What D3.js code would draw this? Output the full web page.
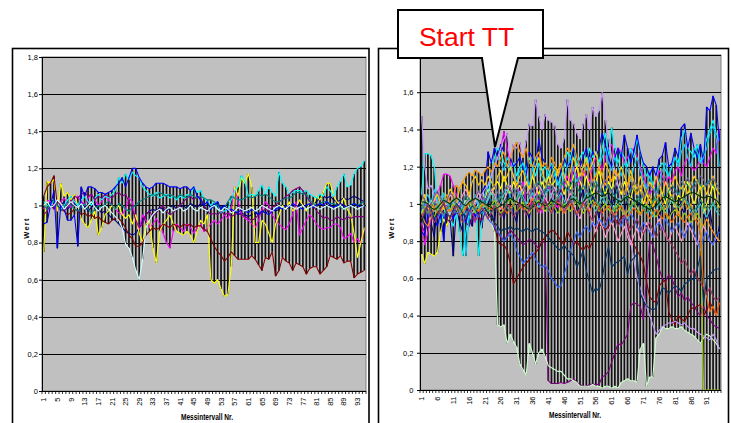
<!DOCTYPE html>
<html><head><meta charset="utf-8">
<script src="https://cdn.jsdelivr.net/npm/d3@7"></script>
<style>body{margin:0;background:#fff}svg{display:block}text{font-family:"Liberation Sans",Arial,sans-serif}</style>
</head><body><svg id="c" width="731" height="423"></svg>
<script>
const categories = [1,2,3,4,5,6,7,8,9,10,11,12,13,14,15,16,17,18,19,20,21,22,23,24,25,26,27,28,29,30,31,32,33,34,35,36,37,38,39,40,41,42,43,44,45,46,47,48,49,50,51,52,53,54,55,56,57,58,59,60,61,62,63,64,65,66,67,68,69,70,71,72,73,74,75,76,77,78,79,80,81,82,83,84,85,86,87,88,89,90,91,92,93,94,95];
const leftTickLabels = [1,5,9,13,17,21,25,29,33,37,41,45,49,53,57,61,65,69,73,77,81,85,89,93];
const rightTickLabels = [1,6,11,16,21,26,31,36,41,46,51,56,61,66,71,76,81,86,91];
const yTicks = [0,0.2,0.4,0.6,0.8,1.0,1.2,1.4,1.6,1.8];
const yTickLabels = ["0","0,2","0,4","0,6","0,8","1","1,2","1,4","1,6","1,8"];

// ---- left panel series ----
const L_navy = [1.00,0.98,1.02,1.03,0.99,1.00,1.02,0.98,1.00,1.01, 0.99,1.02,1.00,0.97,0.99,1.01,0.98,0.96,0.97,0.95, 0.93,0.92,0.90,0.88,0.86,0.85,0.84,0.85,0.88,0.92, 0.95,0.97,0.98,0.97,0.99,0.98,0.97,0.99,1.00,0.98, 0.99,1.00,0.98,1.01,1.00,0.99,1.01,1.00,0.97,0.99, 1.01,1.00,0.99,1.00,0.98,0.96,0.97,0.95,0.96,0.95, 0.94,0.95,0.96,0.95,0.97,0.96,0.97,0.98,0.97,0.98, 0.99,0.98,0.99,1.00,0.99,1.01,1.00,0.99,1.00,1.01, 1.02,1.04,1.05,1.04,1.05,1.03,1.02,1.03,1.04,1.03, 1.04,1.05,1.04,1.03,1.02];
const L_magenta = [0.98,1.03,1.02,1.00,0.97,1.02,1.04,1.01,0.99,1.03, 1.05,1.02,1.00,1.04,1.06,1.03,1.00,1.02,1.05,1.03, 1.00,0.98,0.96,0.95,0.98,1.04,1.02,0.92,0.87,0.95, 0.92,0.88,0.90,0.93,0.90,0.85,0.80,0.77,0.86,0.90, 0.88,0.86,0.90,0.88,0.85,0.88,0.90,0.86,0.88,0.90, 0.92,0.90,0.92,0.95,0.93,0.98,1.10,1.02,0.95,0.93, 0.92,0.90,0.88,0.92,0.98,1.02,1.00,0.95,0.92,0.90, 0.88,0.87,0.90,0.95,1.02,0.84,0.88,0.92,0.95,0.93, 0.90,0.88,0.87,0.88,0.88,0.90,0.90,0.88,0.82,0.83, 0.85,0.80,0.82,0.80,0.87];
const L_yellow = [0.75,1.13,1.12,1.14,0.97,1.12,1.05,1.07,1.03,1.06, 1.00,0.93,0.90,0.88,0.92,0.97,0.84,0.88,0.95,0.97, 1.00,0.98,1.00,0.95,0.93,0.95,0.90,0.95,0.85,0.80, 0.90,0.92,0.77,0.69,0.86,0.90,0.92,0.95,0.90,0.86, 0.85,0.84,0.86,0.84,0.80,0.86,0.92,0.90,0.95,0.60, 0.58,0.60,0.55,0.51,0.52,0.67,1.10,1.05,1.15,1.12, 1.17,1.10,0.80,0.80,0.92,0.90,0.85,0.80,0.90,0.95, 1.00,0.98,1.02,0.97,0.99,1.03,1.00,0.97,1.02,1.00, 1.05,1.03,1.07,1.12,1.12,1.05,1.02,1.00,1.04,0.98, 0.95,0.85,0.72,0.80,0.88];
const L_cyan = [1.02,1.00,0.99,1.03,1.01,0.98,1.00,1.03,1.05,1.02, 1.00,1.03,1.05,1.02,1.00,1.04,1.06,1.03,1.05,1.04, 1.06,1.08,1.15,1.12,1.17,1.14,1.18,1.16,1.15,1.10, 1.08,1.06,1.05,1.07,1.04,1.05,1.06,1.04,1.05,1.03, 1.05,1.04,1.06,1.05,1.10,1.07,1.08,1.04,1.02,1.00, 1.02,0.98,0.96,0.97,0.98,1.03,1.08,1.10,1.16,1.13, 1.05,1.06,1.05,1.08,1.11,1.06,1.10,1.07,1.05,1.18, 1.12,1.10,1.06,1.07,1.08,1.08,1.07,1.08,1.06,1.05, 1.04,1.06,1.05,1.10,1.08,1.05,1.10,1.13,1.17,1.10, 1.11,1.17,1.20,1.21,1.24];
const L_purple = [0.95,0.97,1.00,0.98,1.02,1.00,0.97,0.99,1.02,1.05, 1.04,1.06,1.07,1.05,1.06,1.03,1.05,1.04,1.06,1.05, 1.04,1.06,1.07,1.05,1.06,1.02,0.98,0.92,0.88,0.90, 0.95,0.97,0.94,0.96,0.98,1.00,0.97,0.95,0.96,0.98, 1.00,1.02,1.04,1.05,1.03,1.05,1.04,1.00,0.97,0.95, 0.96,0.95,0.97,0.95,0.96,0.94,0.95,0.96,0.95,0.94, 0.93,0.92,0.93,0.95,0.97,0.98,0.97,0.99,1.00,1.02, 1.03,1.05,1.06,1.08,1.09,1.10,1.08,1.05,1.02,1.00, 0.97,0.95,0.93,0.94,0.92,0.92,0.94,0.93,0.92,0.94, 0.93,0.94,0.94,0.94,0.94];
const L_maroon = [1.05,1.10,1.12,1.16,1.00,0.98,0.97,0.95,0.96,0.98, 0.97,0.95,0.96,0.94,0.95,0.93,0.94,0.92,0.91,0.90, 0.92,0.93,0.93,0.91,0.88,0.84,0.82,0.78,0.78,0.80, 0.84,0.86,0.88,0.87,0.88,0.90,0.89,0.88,0.90,0.89, 0.88,0.90,0.89,0.90,0.88,0.89,0.89,0.87,0.86,0.82, 0.78,0.75,0.73,0.70,0.72,0.75,0.73,0.71,0.71,0.71, 0.71,0.73,0.71,0.68,0.65,0.72,0.71,0.75,0.62,0.65, 0.72,0.70,0.69,0.65,0.69,0.68,0.67,0.63,0.66,0.67, 0.67,0.63,0.65,0.67,0.73,0.72,0.71,0.73,0.69,0.70, 0.70,0.61,0.63,0.64,0.65];
const L_teal = [1.00,0.98,1.01,1.03,1.00,0.97,0.99,1.02,1.00,0.98, 0.97,0.99,1.01,0.98,0.96,0.98,1.00,0.99,1.01,1.02, 1.00,0.98,1.01,1.00,0.98,0.97,0.99,1.00,1.02,1.03, 1.04,1.05,1.06,1.05,1.07,1.06,1.05,1.06,1.05,1.04, 1.06,1.05,1.04,1.06,1.05,1.04,1.05,1.04,1.03,1.03, 1.02,1.00,0.98,0.99,1.02,1.05,1.04,1.03,1.03,1.04, 1.05,1.04,1.05,1.06,1.05,1.06,1.05,1.03,1.02,1.02, 1.03,1.04,1.04,1.05,1.07,1.07,1.06,1.06,1.03,1.01, 1.00,1.01,1.02,1.02,1.01,1.01,1.00,0.99,0.98,0.99, 1.00,1.01,1.00,1.01,1.02];
const L_blue = [0.90,0.91,1.00,1.08,0.77,1.00,0.98,0.92,0.92,0.95, 0.78,1.10,1.05,1.10,1.10,1.09,1.07,1.07,1.06,1.07, 1.08,1.10,1.12,1.15,1.10,1.15,1.20,1.20,1.15,1.12, 1.10,1.09,1.10,1.12,1.12,1.12,1.11,1.10,1.10,1.10, 1.09,1.10,1.10,1.08,1.10,1.05,1.03,1.00,1.02,0.98, 1.00,1.02,0.98,1.00,0.97,0.98,0.97,0.96,0.98,0.97, 0.96,0.98,0.97,0.95,0.97,0.96,0.95,0.97,0.98,0.99, 0.98,1.00,0.99,1.01,1.00,0.99,0.98,1.00,1.01,0.99, 1.00,1.01,1.00,1.02,1.00,0.99,1.00,1.01,1.00,0.99, 1.00,1.01,1.00,0.99,1.00];
const L_lightcyan = [1.00,1.02,0.99,1.00,1.03,1.01,0.98,1.00,1.02,1.00, 0.99,1.01,0.98,1.00,1.02,0.99,0.97,0.99,1.00,0.98, 0.96,0.94,0.92,0.88,0.79,0.77,0.72,0.65,0.60,0.71, 0.88,0.92,0.95,0.97,0.98,0.96,0.98,0.99,0.97,0.98, 0.99,0.97,0.98,1.00,0.98,0.97,0.99,0.98,0.97,0.99, 1.00,0.98,0.97,0.99,0.98,0.96,0.97,0.99,0.98,0.97, 0.98,0.99,0.97,0.98,1.00,0.99,0.98,0.97,0.99,1.00, 0.99,0.98,1.00,0.99,0.98,0.99,1.00,0.98,0.99,1.00, 0.99,0.98,0.99,1.00,0.99,0.98,0.99,1.00,0.98,0.99, 1.00,0.99,0.98,0.99,1.00];

// ---- right panel series ----
const R_navy = [0.95,0.88,1.05,0.90,0.82,1.00,0.95,0.85,1.02,0.92, 0.72,0.98,0.90,0.85,1.00,0.93,0.88,1.02,0.95,0.87, 1.00,1.08,0.95,0.90,1.05,0.98,0.92,1.00,1.10,0.95, 0.90,1.02,1.08,0.97,0.92,1.05,1.00,0.95,1.08,1.02, 0.98,1.05,0.95,1.00,1.10,1.03,0.97,1.05,1.00,0.93, 1.02,1.08,0.98,0.95,1.05,1.00,0.92,1.03,1.10,1.05, 0.98,1.05,1.12,1.00,0.95,1.05,1.10,1.02,0.97,1.03, 1.08,1.00,0.95,1.02,0.98,0.92,1.00,1.05,0.97,0.93, 1.00,1.06,0.98,0.95,1.02,0.97,0.92,0.98,1.03,0.95, 0.90,0.97,0.85,0.80,0.88];
const R_magenta = [0.90,0.78,0.85,0.92,1.00,1.05,1.10,1.16,1.16,1.15, 1.10,1.05,1.00,0.95,0.98,1.02,0.95,0.90,0.98,1.00, 1.05,1.10,1.15,1.20,1.25,1.30,1.39,1.30,1.22,1.15, 1.10,1.05,1.12,1.00,0.95,1.05,1.10,1.00,0.95,1.05, 1.10,1.05,1.00,0.98,1.05,1.10,1.15,1.12,1.20,1.15, 1.10,1.18,1.15,1.12,1.20,1.25,1.22,1.18,1.25,1.30, 1.32,1.25,1.30,1.28,1.22,1.25,1.28,1.30,1.25,1.20, 1.15,1.10,1.05,1.08,1.12,1.18,1.15,1.10,1.15,1.12, 1.18,1.20,1.15,1.22,1.25,1.20,1.18,1.20,1.25,1.22, 1.20,1.25,1.30,1.27,1.40];
const R_yellow = [0.73,0.68,0.74,0.73,0.72,0.74,0.85,0.92,0.88,0.95, 1.00,0.97,1.02,0.95,1.00,1.05,0.98,1.02,1.00,1.05, 1.03,1.08,1.05,1.10,1.12,1.08,1.15,1.10,1.05,1.12, 1.08,1.10,1.05,1.12,1.08,1.15,1.10,1.05,1.12,1.08, 1.15,1.10,1.12,1.18,1.10,1.05,1.12,1.08,1.15,1.20, 1.12,1.08,1.15,1.10,1.05,1.12,1.18,1.10,1.05,1.12, 1.08,1.15,1.10,1.05,1.12,1.08,1.02,1.10,1.05,1.08, 1.00,1.05,1.02,0.98,1.05,1.10,1.05,1.00,1.08,1.02, 0.98,1.05,1.02,1.08,1.12,1.05,1.00,1.05,1.10,0.95, 1.00,1.05,1.10,1.02,0.98];
const R_cyan = [1.05,1.27,1.27,1.26,1.20,1.00,0.90,0.95,1.00,0.92, 0.88,0.95,0.85,0.72,0.85,0.95,1.00,0.98,0.72,0.90, 0.98,1.05,1.15,1.25,1.30,1.28,1.22,1.20,1.18,1.22, 1.15,1.20,1.22,1.18,1.25,1.20,1.15,1.22,1.18,1.20, 1.15,1.20,1.18,1.10,1.15,1.20,1.28,1.25,1.32,1.20, 1.25,1.28,1.22,1.30,1.25,1.28,1.22,1.30,1.38,1.25, 1.41,1.30,1.22,1.28,1.25,1.20,1.30,1.25,1.35,1.28, 1.20,1.15,1.18,1.10,1.15,1.20,1.22,1.18,1.15,1.20, 1.25,1.22,1.35,1.40,1.30,1.28,1.25,1.32,1.22,1.28, 1.35,1.40,1.45,1.38,1.34];
const R_purple = [0.88,0.85,0.92,0.95,0.90,0.93,0.97,0.95,0.92,0.90, 0.93,0.95,0.97,0.92,0.90,0.88,0.92,0.95,0.93,0.91, 0.95,0.92,0.90,0.87,0.85,0.82,0.80,0.83,0.86,0.84, 0.82,0.80,0.78,0.79,0.81,0.80,0.78,0.76,0.80,0.79, 0.05,0.035,0.035,0.035,0.04,0.035,0.04,0.05,0.06,0.04, 0.03,0.02,0.02,0.03,0.03,0.03,0.03,0.07,0.08,0.10, 0.15,0.20,0.25,0.24,0.27,0.30,0.45,0.47,0.46,0.45, 0.38,0.60,0.80,0.78,0.72,0.65,0.60,0.58,0.62,0.60, 0.55,0.50,0.52,0.48,0.50,0.47,0.45,0.42,0.40,0.45, 0.40,0.38,0.35,0.34,0.33];
const R_maroon = [1.00,0.95,0.98,1.02,0.97,0.95,0.99,1.01,0.97,0.96, 0.99,1.02,0.98,0.95,0.97,1.00,0.98,0.95,0.97,1.00, 0.98,0.95,0.93,0.90,0.80,0.78,0.78,0.75,0.68,0.57, 0.60,0.63,0.66,0.68,0.70,0.72,0.74,0.76,0.80,0.82, 0.84,0.86,0.85,0.83,0.80,0.78,0.85,0.82,0.78,0.80, 0.77,0.75,0.78,0.76,0.80,0.85,0.89,0.88,0.86,0.88, 0.89,0.92,0.90,0.93,0.94,0.88,0.82,0.78,0.75,0.72, 0.68,0.58,0.50,0.48,0.47,0.56,0.58,0.59,0.42,0.38, 0.35,0.40,0.38,0.37,0.40,0.44,0.44,0.45,0.46,0.40, 0.43,0.47,0.44,0.40,0.47];
const R_teal = [1.02,0.98,1.00,1.03,0.99,0.96,1.00,1.02,0.98,1.00, 1.03,1.00,0.97,1.01,1.04,1.00,0.97,1.00,1.02,0.99, 1.01,1.04,1.02,0.99,1.03,1.06,1.04,1.01,1.05,1.08, 1.06,1.03,1.07,1.10,1.08,1.05,1.09,1.12,1.08,1.06, 1.10,1.08,1.05,1.08,1.12,1.10,1.07,1.10,1.13,1.09, 1.06,1.10,1.08,1.05,1.09,1.12,1.08,1.05,1.08,1.10, 1.07,1.04,1.08,1.10,1.06,1.03,1.07,1.09,1.05,1.02, 1.06,1.08,1.04,1.01,1.05,1.08,1.06,1.03,1.07,1.10, 1.08,1.05,1.09,1.12,1.10,1.07,1.11,1.13,1.10,1.08, 1.11,1.13,1.10,1.08,1.06];
const R_blue = [0.85,0.83,0.95,1.00,0.92,0.88,0.95,0.80,1.00,0.97, 0.92,0.98,1.02,0.95,0.90,0.97,1.00,0.93,0.98,1.05, 1.10,1.28,1.22,1.30,1.25,1.32,1.28,1.20,1.25,1.20, 1.22,1.25,1.20,1.15,1.28,1.25,1.20,1.35,1.25,1.22, 1.18,1.20,1.15,1.12,1.18,1.25,1.20,1.22,1.30,1.25, 1.20,1.25,1.30,1.22,1.28,1.25,1.30,1.38,1.32,1.25, 1.20,1.25,1.30,1.25,1.37,1.30,1.22,1.28,1.37,1.28, 1.22,1.20,1.15,1.20,1.15,1.24,1.26,1.33,1.20,1.22, 1.30,1.25,1.41,1.43,1.30,1.38,1.30,1.25,1.32,1.22, 1.52,1.50,1.58,1.53,1.34];
const R_sky = [0.95,1.05,1.00,0.98,1.08,1.02,0.97,1.05,1.00,0.95, 1.02,0.98,0.95,1.00,0.72,0.92,1.00,1.05,0.98,0.95, 1.05,1.10,1.15,1.20,1.25,1.22,1.18,1.25,1.20,1.15, 1.12,1.18,1.22,1.15,1.10,1.18,1.25,1.20,1.15,1.12, 1.18,1.22,1.15,1.12,1.08,1.15,1.20,1.25,1.18,1.12, 1.15,1.20,1.18,1.25,1.22,1.15,1.20,1.25,1.30,1.22, 1.18,1.25,1.20,1.15,1.22,1.18,1.12,1.20,1.25,1.18, 1.12,1.08,1.15,1.10,1.05,1.12,1.18,1.22,1.15,1.20, 1.25,1.20,1.28,1.32,1.25,1.20,1.30,1.28,1.22,1.25, 1.30,1.38,1.42,1.35,1.20];
const R_lightgreen = [0.95,1.00,0.98,1.02,0.97,0.95,0.99,1.01,0.97,0.94, 0.98,1.00,0.96,0.99,1.02,0.98,0.95,0.97,1.00,0.98, 0.96,0.93,0.90,0.85,0.35,0.34,0.35,0.25,0.30,0.26, 0.23,0.14,0.11,0.08,0.25,0.20,0.14,0.20,0.22,0.18, 0.13,0.12,0.11,0.10,0.10,0.08,0.06,0.06,0.05,0.04, 0.02,0.02,0.02,0.02,0.03,0.02,0.02,0.01,0.02,0.02, 0.01,0.02,0.01,0.04,0.05,0.06,0.05,0.05,0.04,0.22, 0.25,0.02,0.07,0.07,0.28,0.30,0.34,0.33,0.33,0.34, 0.33,0.33,0.34,0.32,0.31,0.30,0.29,0.27,0.25,0.28, 0.30,0.29,0.27,0.25,0.22];
const R_lavender = [1.47,1.20,1.08,1.10,1.05,1.00,0.98,1.02,0.97,0.95, 1.00,1.03,0.98,0.95,1.00,1.02,0.97,1.00,1.03,1.05, 1.08,1.10,1.15,1.20,1.25,1.30,1.35,1.38,1.25,1.32, 1.30,1.33,1.25,1.34,1.43,1.42,1.56,1.47,1.40,1.48, 1.45,1.44,1.42,1.32,1.30,1.35,1.56,1.45,1.43,1.38, 1.35,1.43,1.48,1.40,1.52,1.47,1.50,1.60,1.45,1.35, 1.25,1.18,1.10,1.00,0.95,0.85,0.80,0.70,0.60,0.55, 0.50,0.45,0.40,0.35,0.30,0.32,0.34,0.35,0.36,0.36, 0.37,0.36,0.35,0.36,0.34,0.33,0.33,0.31,0.30,0.29, 0.28,0.27,0.30,0.27,0.22];
const R_pink = [1.00,1.05,0.98,0.95,1.02,1.08,1.03,0.98,1.00,1.05, 1.02,0.97,1.00,1.05,1.08,1.03,0.98,1.02,1.06,1.02, 0.98,1.03,1.08,1.05,1.00,0.97,1.02,1.06,1.10,1.05, 1.00,1.04,1.08,1.12,1.06,1.02,1.05,1.10,1.07,1.03, 1.00,1.05,1.09,1.04,1.00,0.96,1.02,1.06,1.00,0.95, 0.92,0.98,1.03,0.97,0.90,0.85,0.92,0.88,0.82,0.86, 0.90,0.86,0.80,0.84,0.88,0.82,0.78,0.83,0.87,0.80, 0.85,0.90,0.86,0.82,0.88,0.92,0.87,0.83,0.80,0.85, 0.88,0.84,0.80,0.85,0.90,0.86,0.82,0.78,0.84,0.88, 0.85,0.80,0.78,0.82,0.80];
const R_blue2 = [0.97,1.00,0.95,0.92,0.97,1.00,0.96,0.93,0.98,1.02, 0.98,0.95,0.97,1.00,0.96,0.94,0.98,0.95,0.93,0.97, 0.95,0.92,0.90,0.88,0.85,0.83,0.80,0.82,0.84,0.81, 0.75,0.72,0.68,0.70,0.72,0.74,0.70,0.68,0.66,0.67, 0.64,0.60,0.58,0.55,0.56,0.62,0.68,0.75,0.80,0.85, 0.82,0.86,0.88,0.85,0.90,0.88,0.92,0.90,0.87,0.93, 0.90,0.95,0.92,0.88,0.93,0.90,0.95,0.92,0.88,0.85, 0.90,0.87,0.85,0.82,0.88,0.90,0.86,0.92,0.89,0.85, 0.88,0.90,0.85,0.82,0.87,0.90,0.85,0.80,0.75,0.82, 0.85,0.80,0.78,0.83,0.85];
const R_turq = [0.98,1.02,1.05,1.00,0.96,0.99,1.03,1.06,1.01,0.97, 0.95,0.99,1.03,0.98,0.94,0.97,1.01,1.04,1.00,0.96, 0.99,1.02,1.06,1.03,0.98,1.01,1.05,1.08,1.04,1.00, 1.03,1.07,1.04,1.00,1.03,1.06,1.02,0.98,1.01,1.05, 1.08,1.04,1.00,1.03,1.06,1.02,0.97,1.00,1.04,1.01, 0.98,1.02,1.06,1.03,0.99,0.96,1.00,1.04,1.01,0.97, 0.95,0.99,1.03,1.00,0.96,0.92,0.97,1.01,0.98,0.94, 0.97,1.00,0.96,0.93,0.97,1.01,0.98,0.95,0.99,1.02, 0.99,0.95,0.98,1.02,1.00,0.96,0.93,0.97,1.00,0.96, 0.93,0.97,1.00,0.96,0.94];
const R_yellowgreen = [0.95,0.98,1.00,0.96,0.93,0.97,1.00,0.98,0.95,0.97, 1.00,0.97,0.94,0.96,0.99,1.01,0.98,0.95,0.97,1.00, 0.98,0.96,0.99,1.02,0.98,0.95,0.97,1.00,1.03,0.99, 0.96,0.98,1.01,0.97,0.95,0.98,1.00,1.02,0.98,0.96, 0.99,1.01,0.98,0.95,0.97,1.00,0.98,0.96,0.99,1.02, 0.98,0.95,0.97,1.00,1.02,0.99,0.96,0.98,1.00,0.97, 0.95,0.98,1.00,0.97,0.94,0.96,0.99,1.01,0.98,0.95, 0.97,1.00,0.98,0.95,0.93,0.96,0.98,0.95,0.92,0.95, 0.97,0.94,0.92,0.95,0.93,0.90,0.92,0.95,0.92,0.00, 0.00,0.00,0.00,0.00,0.00];
const R_gold = [1.00,1.05,0.98,0.95,1.02,1.05,1.00,0.97,1.03,1.08, 1.05,1.00,1.08,1.12,1.10,1.05,1.12,1.15,1.10,1.13, 1.10,1.15,1.12,1.08,1.15,1.18,1.12,1.15,1.20,1.15, 1.10,1.15,1.18,1.12,1.08,1.15,1.20,1.25,1.18,1.12, 1.10,1.15,1.20,1.18,1.22,1.15,1.10,1.18,1.25,1.20, 1.15,1.20,1.25,1.18,1.22,1.28,1.20,1.15,1.22,1.18, 1.12,1.18,1.15,1.20,1.15,1.10,1.18,1.12,1.08,1.15, 1.10,1.05,1.12,1.08,1.15,1.10,1.05,1.12,1.08,1.10, 1.15,1.10,1.08,1.12,1.05,1.10,1.15,1.12,1.08,1.10, 1.05,1.10,1.15,1.08,1.05];
const R_orange = [0.95,0.90,0.88,0.93,0.98,1.00,0.95,1.02,1.05,1.00, 1.05,1.10,1.08,1.12,1.15,1.17,1.15,1.18,1.17,1.15, 1.18,1.20,1.17,1.22,1.20,1.25,1.28,1.20,1.25,1.30, 1.33,1.28,1.25,1.30,1.22,1.20,1.25,1.28,1.20,1.22, 1.18,1.25,1.22,1.15,1.20,1.25,1.30,1.28,1.32,1.25, 1.20,1.15,1.22,1.18,1.12,1.15,1.20,1.15,1.10,1.15, 1.12,1.18,1.15,1.10,1.05,1.10,1.15,1.08,1.05,1.10, 1.05,1.00,1.05,0.98,1.02,1.05,1.00,0.97,1.02,1.05, 1.00,0.95,0.98,1.02,0.97,1.00,0.95,0.92,0.90,0.88, 0.92,0.88,0.85,0.82,0.80];
const R_orangered = [1.00,0.97,0.95,1.00,0.98,0.95,0.97,1.00,0.98,0.96, 0.98,1.00,0.97,0.95,0.98,1.00,1.02,0.98,0.96,0.99, 1.00,0.98,0.97,0.99,1.01,0.98,0.97,0.95,0.98,1.00, 1.02,0.99,0.97,0.98,1.00,1.03,0.99,0.96,0.98,1.00, 0.98,0.96,0.99,1.01,0.97,0.95,0.98,1.00,0.97,0.95, 0.97,1.00,0.98,0.96,0.99,1.01,0.98,0.95,0.97,0.99, 0.96,0.94,0.97,0.99,0.96,0.93,0.95,0.98,0.96,0.94, 0.97,0.95,0.92,0.95,0.97,0.94,0.92,0.95,0.93,0.90, 0.93,0.95,0.92,0.90,0.93,0.95,0.92,0.90,0.85,0.55, 0.50,0.42,0.45,0.40,0.47];
const R_slate = [1.05,1.02,0.98,1.00,1.04,1.07,1.03,1.00,1.02,1.06, 1.04,1.00,0.98,1.02,1.05,1.03,1.00,1.04,1.07,1.05, 1.02,1.05,1.08,1.10,1.06,1.03,1.07,1.10,1.08,1.05, 1.08,1.12,1.10,1.06,1.04,1.08,1.11,1.09,1.05,1.08, 1.12,1.10,1.07,1.05,1.09,1.13,1.10,1.06,1.08,1.11, 1.14,1.10,1.06,1.09,1.12,1.08,1.05,1.10,1.13,1.09, 1.06,1.10,1.14,1.11,1.07,1.04,1.08,1.12,1.10,1.06, 1.03,1.07,1.10,1.08,1.05,1.09,1.12,1.15,1.10,1.07, 1.05,1.09,1.12,1.10,1.14,1.11,1.08,1.12,1.15,1.13, 1.10,1.12,1.14,1.11,1.08];
const R_darknavy = [0.90,0.95,1.00,0.97,0.92,0.95,0.98,1.00,0.95,0.93, 0.97,1.00,0.98,0.95,0.92,0.96,0.99,0.97,0.94,0.96, 0.98,0.95,0.93,0.90,0.88,0.85,0.87,0.86,0.88,0.86, 0.87,0.86,0.85,0.87,0.86,0.85,0.87,0.86,0.85,0.84, 0.82,0.80,0.78,0.76,0.75,0.78,0.75,0.74,0.72,0.66, 0.70,0.75,0.64,0.58,0.52,0.55,0.53,0.60,0.70,0.77, 0.66,0.68,0.69,0.70,0.72,0.62,0.69,0.71,0.73,0.52, 0.48,0.45,0.44,0.43,0.44,0.50,0.55,0.54,0.52,0.54, 0.56,0.55,0.53,0.57,0.58,0.60,0.59,0.65,0.72,0.47, 0.60,0.62,0.64,0.65,0.65];
const R_green = [1.00,0.97,0.95,0.98,1.01,0.99,0.96,0.94,0.97,1.00, 1.02,0.99,0.96,0.98,1.01,1.03,1.00,0.97,0.99,1.02, 1.00,0.97,0.95,0.98,1.02,1.04,1.01,0.98,0.96,0.99, 1.02,1.05,1.02,0.99,0.97,1.00,1.03,1.05,1.02,0.99, 0.96,0.99,1.02,1.04,1.01,0.98,1.00,1.03,1.06,1.03, 1.00,0.97,1.00,1.03,1.05,1.02,0.99,1.01,1.04,1.02, 0.99,0.96,0.99,1.02,1.04,1.01,0.98,1.00,1.03,1.01, 0.98,0.95,0.98,1.01,1.03,1.00,0.97,0.99,1.02,1.04, 1.01,0.98,1.00,1.03,1.01,0.98,0.96,0.99,1.02,1.00, 0.97,0.99,1.01,0.98,0.96];
const R_dkgreen = [1.01,1.01,1.00,0.98,0.97,0.98,1.00,1.02,1.01,1.00, 1.02,1.03,1.02,1.00,0.99,1.01,1.02,1.03,1.02,1.01, 1.00,0.99,0.98,0.97,0.98,0.99,1.00,1.02,1.03,1.02, 1.01,1.00,0.99,0.98,0.97,0.98,1.00,1.01,1.00,0.99, 1.00,1.02,1.01,1.00,0.99,0.98,1.00,1.02,1.03,1.01, 1.00,1.01,1.03,1.04,1.05,1.06,1.05,1.04,1.05,1.06, 1.04,1.03,1.02,1.01,1.03,1.04,1.03,1.02,1.01,1.00, 0.99,0.98,0.97,0.98,0.99,1.01,1.03,1.04,1.03,1.02, 1.01,1.02,1.03,1.04,1.05,1.06,1.06,1.05,1.04,1.03, 1.04,1.04,1.03,1.02,1.00];
const R_plum = [0.92,0.96,1.00,0.95,0.90,0.93,0.97,1.01,0.96,0.92, 0.95,0.99,0.94,0.90,0.93,0.97,0.95,0.91,0.94,0.98, 0.96,0.92,0.95,0.99,0.97,0.93,0.96,1.00,0.97,0.93, 0.96,1.00,0.98,0.94,0.97,1.01,0.98,0.95,0.99,1.02, 0.98,0.95,0.99,1.03,1.00,0.96,0.99,1.02,0.98,0.94, 0.97,1.01,0.98,0.94,0.91,0.95,0.98,0.94,0.90,0.93, 0.96,0.92,0.88,0.91,0.94,0.90,0.86,0.89,0.92,0.88, 0.84,0.87,0.90,0.86,0.82,0.85,0.88,0.84,0.80,0.78, 0.75,0.72,0.68,0.70,0.66,0.62,0.65,0.60,0.58,0.55, 0.52,0.55,0.50,0.48,0.50];

const leftSeries = [
  {color:"#000080", values:L_navy},
  {color:"#FF00FF", values:L_magenta},
  {color:"#FFFF00", values:L_yellow},
  {color:"#00FFFF", values:L_cyan},
  {color:"#800080", values:L_purple},
  {color:"#800000", values:L_maroon},
  {color:"#008080", values:L_teal},
  {color:"#0000FF", values:L_blue},
  {color:"#CCFFFF", values:L_lightcyan}
];
const rightSeries = [
  {color:"#000080", values:R_navy},
  {color:"#FF00FF", values:R_magenta},
  {color:"#FFFF00", values:R_yellow},
  {color:"#00FFFF", values:R_cyan},
  {color:"#800080", values:R_purple},
  {color:"#800000", values:R_maroon},
  {color:"#008080", values:R_teal},
  {color:"#0000FF", values:R_blue},
  {color:"#00CCFF", values:R_sky},
  {color:"#CCFFCC", values:R_lightgreen},
  {color:"#CC99FF", values:R_lavender},
  {color:"#FF99CC", values:R_pink},
  {color:"#3366FF", values:R_blue2},
  {color:"#33CCCC", values:R_turq},
  {color:"#99CC00", values:R_yellowgreen},
  {color:"#FFCC00", values:R_gold},
  {color:"#FF9900", values:R_orange},
  {color:"#FF6600", values:R_orangered},
  {color:"#666699", values:R_slate},
  {color:"#003366", values:R_darknavy},
  {color:"#339966", values:R_green},
  {color:"#003300", values:R_dkgreen},
  {color:"#993366", values:R_plum}
];

const svg = d3.select("#c");
const FONT = '"Liberation Sans",Arial,sans-serif';

function drawPanel(p) {
  const g = svg.append("g");
  g.append("rect").attr("x", p.box[0]).attr("y", p.box[1]).attr("width", p.box[2]).attr("height", p.box[3])
    .attr("fill", "#fff").attr("stroke", "#000").attr("stroke-width", 1.6);
  const x = d3.scaleBand().domain(categories).range([p.x0, p.x1]);
  const y = d3.scaleLinear().domain([0, 1.8]).range([p.y0, p.y1]);
  const cx = c => x(c) + x.bandwidth() / 2;

  g.append("rect").attr("x", p.x0).attr("y", p.y1).attr("width", p.x1 - p.x0).attr("height", p.y0 - p.y1)
    .attr("fill", "#C0C0C0").attr("stroke", "#808080").attr("stroke-width", 1);

  g.selectAll("line.grid").data(yTicks.slice(1)).join("line").attr("class", "grid")
    .attr("x1", p.x0).attr("x2", p.x1)
    .attr("y1", d => Math.round(y(d)) + 0.5).attr("y2", d => Math.round(y(d)) + 0.5)
    .attr("stroke", "#000").attr("stroke-width", 1);

  // high-low lines
  const hl = categories.map((c, i) => {
    const vals = p.series.map(s => s.values[i]);
    return {c, lo: d3.min(vals), hi: d3.max(vals)};
  });
  g.selectAll("line.hl").data(hl).join("line").attr("class", "hl")
    .attr("x1", d => cx(d.c)).attr("x2", d => cx(d.c))
    .attr("y1", d => y(d.lo)).attr("y2", d => y(d.hi))
    .attr("stroke", "#111").attr("stroke-width", 1.7);

  const line = d3.line().x((d, i) => cx(categories[i])).y(d => y(d));
  g.selectAll("path.s").data(p.series).join("path").attr("class", "s")
    .attr("d", d => line(d.values)).attr("fill", "none")
    .attr("stroke", d => d.color).attr("stroke-width", 1.1).attr("stroke-linejoin", "round");

  // y axis
  const ya = g.append("g").attr("transform", `translate(${p.x0},0)`)
    .call(d3.axisLeft(y).tickValues(yTicks).tickFormat((d, i) => yTickLabels[i]).tickSize(3).tickPadding(p.ypad));
  ya.select(".domain").attr("stroke", "#000");
  ya.selectAll("text").attr("font-size", "7.5px").attr("fill", "#000").attr("font-family", FONT);

  // x axis
  const xa = g.append("g").attr("transform", `translate(0,${p.y0})`)
    .call(d3.axisBottom(x).tickValues(p.labels).tickSize(0).tickPadding(0));
  xa.select(".domain").attr("stroke", "#000").attr("d", `M${p.x0},0.5H${p.x1}`);
  xa.selectAll("text").attr("transform", "rotate(-90)").attr("x", -6.5).attr("y", 0).attr("dy", "0.35em")
    .attr("text-anchor", "end").attr("font-size", "7.5px").attr("fill", "#000").attr("font-family", FONT);
  g.selectAll("line.xt").data(categories.concat([null])).join("line").attr("class", "xt")
    .attr("x1", d => d === null ? p.x1 : x(d)).attr("x2", d => d === null ? p.x1 : x(d))
    .attr("y1", p.y0).attr("y2", p.y0 + 3).attr("stroke", "#000").attr("stroke-width", 0.8);

  // titles
  g.append("text").attr("x", p.xt[0]).attr("y", p.xt[1])
    .attr("text-anchor", "middle").attr("font-size", "8.5px").attr("font-weight", "bold").attr("fill", "#000")
    .attr("font-family", FONT).attr("textLength", 52).attr("lengthAdjust", "spacingAndGlyphs").text("Messintervall Nr.");
  g.append("text").attr("transform", `translate(${p.yt[0]},${p.yt[1]}) rotate(-90)`)
    .attr("text-anchor", "middle").attr("font-size", "7.5px").attr("font-weight", "bold").attr("fill", "#000")
    .attr("font-family", FONT).attr("letter-spacing", "1.2px").text("Wert");
}

drawPanel({box:[12.5, 48.5, 356.5, 400], x0:42, x1:366, y0:391, y1:57, series:leftSeries, labels:leftTickLabels, ypad:1, xt:[207, 420], yt:[29, 228]});
drawPanel({box:[378.5, 48.5, 350, 400], x0:420, x1:721, y0:390, y1:55, series:rightSeries, labels:rightTickLabels, ypad:3.5, xt:[575, 418], yt:[394, 228]});

// callout
svg.append("path").attr("d", "M398,10H543V58H518L495,147L482,58H398Z")
  .attr("fill", "#fff").attr("stroke", "#000").attr("stroke-width", 2).attr("stroke-linejoin", "miter");
svg.append("text").attr("x", 466.5).attr("y", 46).attr("text-anchor", "middle").attr("font-family", FONT)
  .attr("font-size", "26.5px").attr("fill", "#FF0000").text("Start TT");
</script>
</body></html>
